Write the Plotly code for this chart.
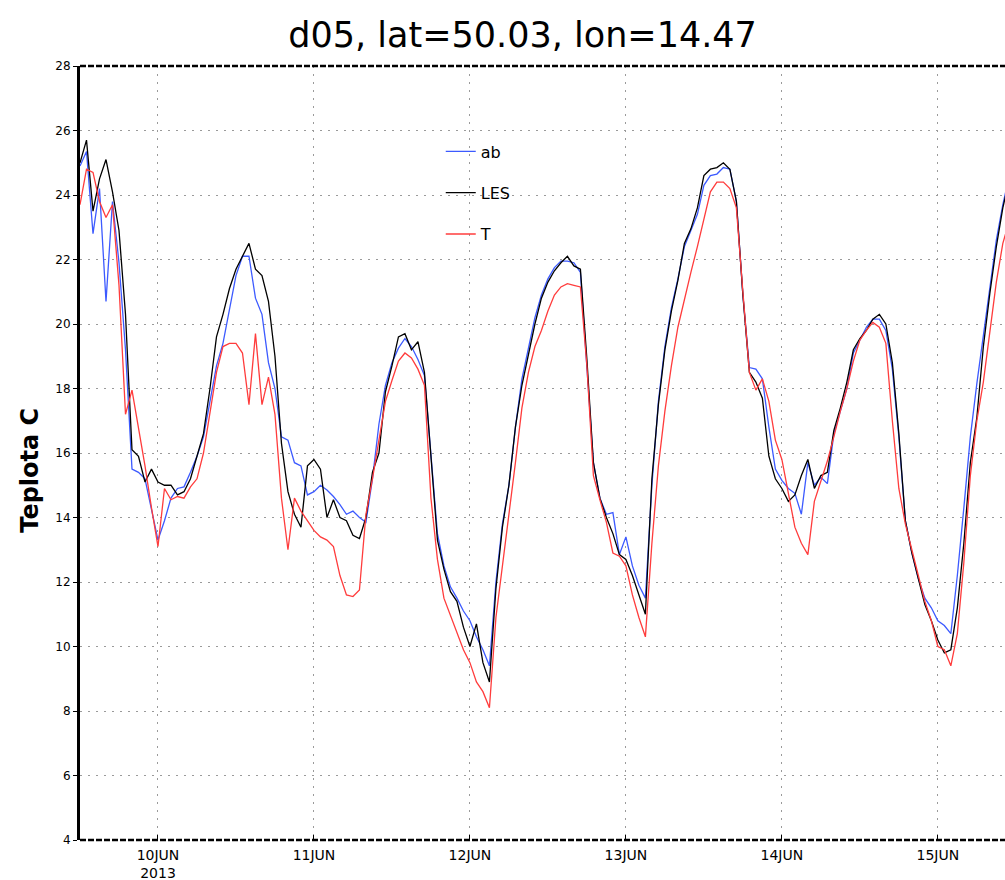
import plotly.graph_objects as go
import pandas as pd

# hourly series starting 2013-06-09 12:00
start_time = "2013-06-09 12:00"

ab = [
    24.9, 25.35, 22.8, 24.2, 20.7, 23.8, 21.9, 19.2, 15.5, 15.4, 15.2, 14.2,
    13.3, 13.9, 14.6, 14.9, 14.95, 15.4, 15.9, 16.5, 17.6, 18.7, 19.4, 20.5,
    21.5, 22.1, 22.1, 20.8, 20.3, 18.8, 18.0, 16.5, 16.4, 15.7, 15.6, 14.7,
    14.8, 15.0, 14.85, 14.65, 14.4, 14.1, 14.2, 14.0, 13.85, 15.2, 16.9, 18.1,
    18.8, 19.25, 19.55, 19.3, 18.9, 18.4, 16.0, 13.5, 12.5, 11.85, 11.5, 11.1,
    10.8, 10.3, 9.9, 9.4, 12.0, 13.8, 15.0, 16.8, 18.3, 19.3, 20.2, 20.9,
    21.4, 21.75, 21.95, 21.95, 21.9, 21.6, 18.8, 15.7, 14.6, 14.1, 14.15, 12.85,
    13.4, 12.5, 11.9, 11.5, 15.0, 17.6, 19.3, 20.5, 21.4, 22.4, 22.9, 23.4,
    24.3, 24.6, 24.65, 24.85, 24.8, 23.8, 20.9, 18.65, 18.6, 18.3, 16.8, 15.5,
    15.15, 14.9, 14.75, 14.1, 15.7, 15.0, 15.25, 15.05, 16.6, 17.3, 18.0, 19.1,
    19.5, 19.9, 20.15, 20.15, 19.8, 18.6, 16.5, 13.9, 12.9, 12.1, 11.5, 11.2,
    10.8, 10.65, 10.4, 12.2, 14.3, 16.5, 18.15, 19.6, 21.2, 22.6, 23.7, 24.6,
]

les = [
    25.0, 25.7, 23.5, 24.5, 25.1, 24.1, 22.9, 20.3, 16.1, 15.9, 15.1, 15.5,
    15.1, 15.0, 15.0, 14.7, 14.8, 15.2, 15.9, 16.6, 18.0, 19.6, 20.3, 21.1,
    21.7, 22.1, 22.5, 21.7, 21.5, 20.7, 19.0, 16.3, 14.8, 14.1, 13.7, 15.6,
    15.8, 15.5, 14.0, 14.55, 14.0, 13.9, 13.45, 13.35, 14.0, 15.4, 16.0, 17.9,
    18.7, 19.6, 19.7, 19.2, 19.45, 18.5, 16.0, 13.3, 12.4, 11.7, 11.4, 10.6,
    10.0, 10.7, 9.5, 8.9, 11.8, 13.7, 15.0, 16.8, 18.1, 19.1, 20.0, 20.8,
    21.3, 21.65, 21.9, 22.1, 21.8, 21.7, 18.9, 15.7, 14.6, 14.0, 13.5, 12.85,
    12.7, 12.2, 11.6, 11.0, 15.2, 17.5, 19.2, 20.4, 21.35, 22.5, 22.95, 23.6,
    24.6, 24.8, 24.85, 25.0, 24.8, 23.8, 20.9, 18.5, 18.2, 17.7, 15.9, 15.2,
    14.9, 14.5, 14.7, 15.3, 15.8, 14.9, 15.3, 15.4, 16.7, 17.4, 18.2, 19.2,
    19.55, 19.8, 20.15, 20.3, 20.0, 18.8, 16.6, 13.9, 12.9, 12.1, 11.3, 10.8,
    10.2, 9.8, 9.9, 11.2, 13.2, 15.7, 17.1, 19.3, 20.95, 22.4, 23.6, 24.5,
]

t = [
    23.7, 24.8, 24.7, 23.8, 23.3, 23.7, 21.2, 17.2, 17.95, 16.8, 15.6, 14.3,
    13.1, 14.9, 14.55, 14.65, 14.6, 14.95, 15.2, 16.0, 17.25, 18.5, 19.3, 19.4,
    19.4, 19.1, 17.5, 19.7, 17.5, 18.35, 17.2, 14.6, 13.0, 14.6, 14.2, 13.9,
    13.6, 13.4, 13.3, 13.1, 12.2, 11.6, 11.55, 11.75, 14.1, 15.2, 16.4, 17.6,
    18.25, 18.85, 19.1, 18.95, 18.6, 18.1, 14.6, 12.7, 11.5, 10.95, 10.4, 9.9,
    9.5, 8.9, 8.6, 8.1, 10.9, 12.5, 14.0, 15.7, 17.4, 18.5, 19.3, 19.8,
    20.4, 20.9, 21.15, 21.25, 21.2, 21.15, 18.7, 15.3, 14.55, 13.85, 12.9, 12.8,
    12.5, 11.6, 10.9, 10.3, 13.2, 15.6, 17.3, 18.7, 19.9, 20.8, 21.6, 22.4,
    23.3, 24.1, 24.4, 24.4, 24.2, 23.6, 21.0, 18.5, 17.95, 18.3, 17.6, 16.4,
    15.8, 14.8, 13.7, 13.2, 12.85, 14.5, 15.1, 15.75, 16.5, 17.3, 18.0, 18.85,
    19.5, 19.8, 20.05, 19.9, 19.4, 17.0, 14.9, 13.8, 13.0, 12.2, 11.4, 10.8,
    10.0, 9.9, 9.4, 10.4, 12.6, 15.3, 17.0, 18.2, 19.8, 21.3, 22.5, 23.2,
]

day_ticks = ["2013-06-10", "2013-06-11", "2013-06-12", "2013-06-13", "2013-06-14", "2013-06-15"]
day_labels = ["10JUN<br>2013", "11JUN", "12JUN", "13JUN", "14JUN", "15JUN"]
y_ticks = list(range(4, 29, 2))

times = pd.date_range(start_time, periods=len(les), freq="h")

fig = go.Figure()
series = [("ab", ab, "#3c5aff"), ("LES", les, "#000000"), ("T", t, "#ff3c3c")]
for name, vals, col in series:
    fig.add_trace(go.Scatter(x=times, y=vals, mode="lines", name=name,
                             legendgroup=name,
                             line=dict(color=col, width=1.3)))

grid_col = "#9a9a9a"
fig.update_layout(
    width=1005, height=880,
    margin=dict(l=80, r=0, t=66, b=40),
    paper_bgcolor="white", plot_bgcolor="white",
    title=dict(text="d05, lat=50.03, lon=14.47", x=0.52, xref="container", xanchor="center",
               y=1 - 35 / 880, yref="container", yanchor="middle",
               font=dict(family="DejaVu Sans", size=35, color="black")),
    showlegend=True,
    legend=dict(x=0.39, y=0.9115, xanchor="left", yanchor="top",
                bgcolor="rgba(0,0,0,0)", borderwidth=0,
                traceorder="grouped", tracegroupgap=17.5,
                font=dict(family="DejaVu Sans", size=16, color="black")),
    xaxis=dict(range=["2013-06-09 12:00", "2013-06-15 10:20"],
               tickmode="array", tickvals=day_ticks, ticktext=day_labels,
               showgrid=True, gridcolor=grid_col, griddash="2px,6px", gridwidth=1,
               ticks="inside", ticklen=5, tickcolor="black",
               ticklabelstandoff=5,
               showline=False, zeroline=False,
               tickfont=dict(family="DejaVu Sans", size=14, color="black")),
    yaxis=dict(range=[4, 28], tickmode="array", tickvals=y_ticks,
               showgrid=True, gridcolor=grid_col, griddash="2px,6px", gridwidth=1,
               ticks="outside", ticklen=4, tickcolor="black",
               showline=True, linecolor="black", linewidth=3,
               zeroline=False,
               tickfont=dict(family="DejaVu Sans", size=12, color="black")),
    shapes=[
        dict(type="line", xref="paper", yref="paper", x0=0, x1=1, y0=0, y1=0,
             line=dict(color="black", width=2.5, dash="6px,2px")),
        dict(type="line", xref="paper", yref="paper", x0=0, x1=1, y0=1, y1=1,
             line=dict(color="black", width=2.5, dash="6px,2px")),
    ],
    annotations=[
        dict(text="Teplota C", xref="paper", yref="paper", x=-50 / 925, y=0.477,
             textangle=-90, showarrow=False, xanchor="center", yanchor="middle",
             font=dict(family="DejaVu Sans", size=24, color="black", weight="bold")),
    ],
)

fig.write_html("out.html")
